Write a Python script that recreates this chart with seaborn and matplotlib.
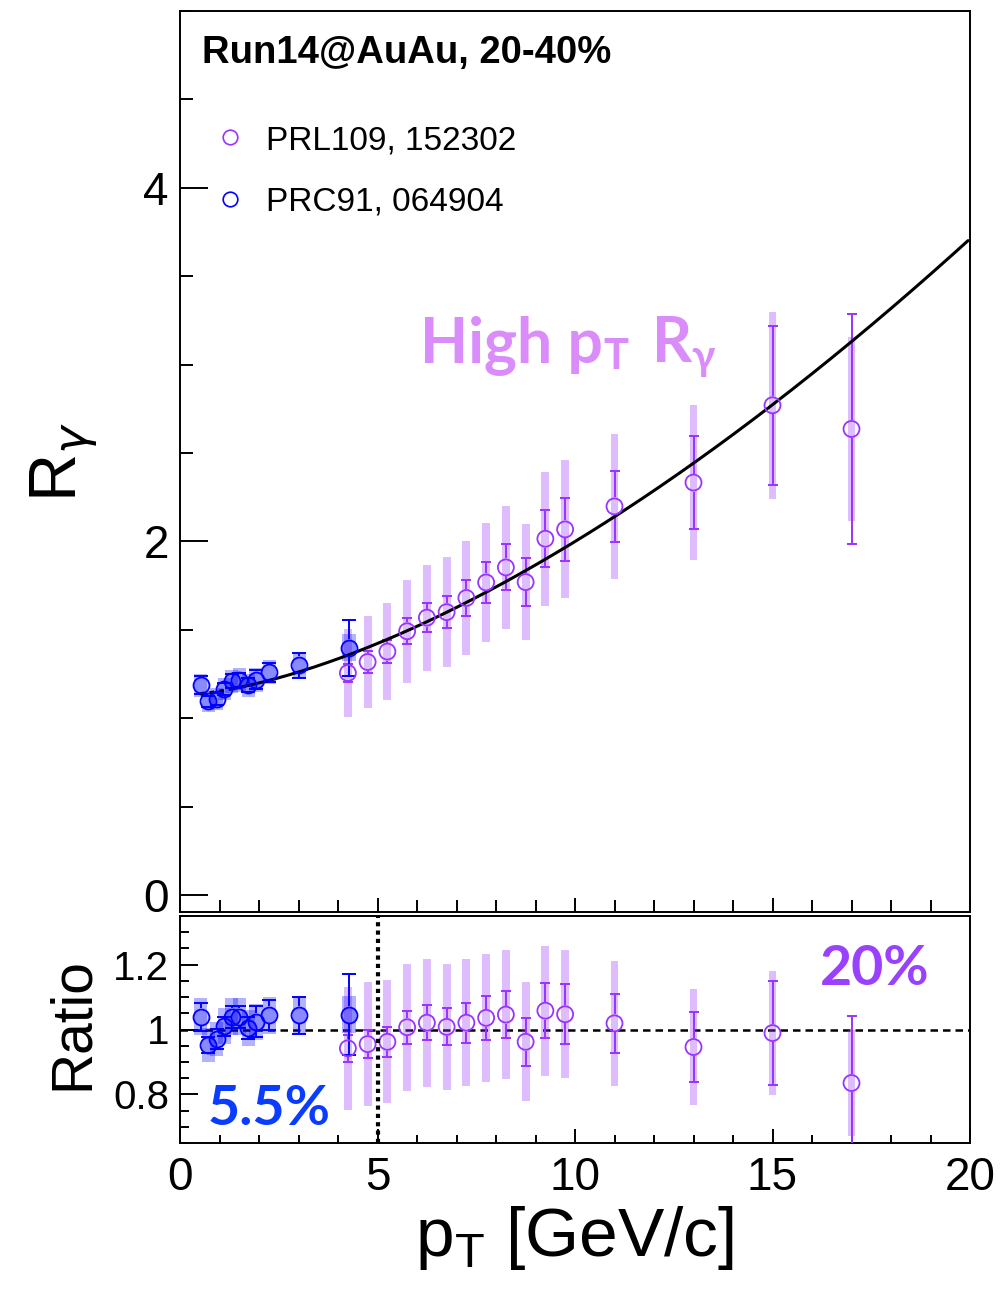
import numpy as np
import pandas as pd
import matplotlib
matplotlib.use("Agg")
import matplotlib.pyplot as plt
import seaborn as sns
from matplotlib.ticker import MultipleLocator, FixedLocator, FixedFormatter
from matplotlib.lines import Line2D

# ---------------- data ----------------
prl_pt = [4.25, 4.75, 5.25, 5.75, 6.25, 6.75, 7.25, 7.75, 8.25, 8.75, 9.25, 9.75, 11.0, 13.0, 15.0, 17.0]
prl_r = [1.256, 1.318, 1.377, 1.492, 1.569, 1.600, 1.680, 1.768, 1.853, 1.770, 2.015, 2.068, 2.198, 2.333, 2.770, 2.636]
prl_stat = [0.05, 0.06, 0.065, 0.074, 0.083, 0.09, 0.10, 0.115, 0.13, 0.135, 0.16, 0.18, 0.20, 0.265, 0.45, 0.65]
prl_sys = [0.25, 0.26, 0.275, 0.29, 0.30, 0.31, 0.32, 0.335, 0.35, 0.33, 0.38, 0.39, 0.41, 0.44, 0.53, 0.52]
prl_ratio = [0.942, 0.955, 0.962, 1.007, 1.021, 1.008, 1.021, 1.036, 1.046, 0.962, 1.058, 1.047, 1.019, 0.946, 0.989, 0.835]
prl_ratio_stat = [0.042, 0.043, 0.047, 0.051, 0.054, 0.057, 0.062, 0.067, 0.073, 0.074, 0.085, 0.093, 0.092, 0.107, 0.16, 0.206]
prl_ratio_sys = [0.19, 0.19, 0.19, 0.196, 0.197, 0.195, 0.195, 0.198, 0.20, 0.183, 0.20, 0.198, 0.193, 0.18, 0.19, 0.164]

prc_pt = [0.52, 0.72, 0.93, 1.12, 1.31, 1.50, 1.73, 1.92, 2.26, 3.02, 4.28]
prc_r = [1.186, 1.095, 1.110, 1.165, 1.209, 1.218, 1.186, 1.218, 1.260, 1.300, 1.398]
prc_stat = [0.05, 0.03, 0.035, 0.035, 0.04, 0.04, 0.04, 0.055, 0.055, 0.07, 0.16]
prc_sys = [0.065, 0.06, 0.061, 0.064, 0.066, 0.067, 0.065, 0.067, 0.069, 0.072, 0.077]
prc_ratio = [1.039, 0.952, 0.971, 1.010, 1.039, 1.039, 1.005, 1.024, 1.044, 1.044, 1.046]
prc_ratio_stat = [0.044, 0.025, 0.03, 0.03, 0.035, 0.035, 0.035, 0.047, 0.046, 0.057, 0.124]
prc_ratio_sys = [0.057, 0.052, 0.053, 0.055, 0.057, 0.057, 0.055, 0.056, 0.057, 0.057, 0.057]

# fit curve  R = a + b * pT^c
fit_a, fit_b, fit_c = 1.13, 0.0234, 1.57
fit_dash_range = (0.5, 1.3)
fit_solid_range = (1.3, 19.95)

legend_labels = ["PRL109, 152302", "PRC91, 064904"]
x_ticks = [0, 5, 10, 15, 20]
top_yticks = [0, 2, 4]
ratio_yticks = [0.8, 1.0, 1.2]
ratio_ytick_labels = ["0.8", "1", "1.2"]

# ---------------- style ----------------
sns.set_theme(style="ticks")
plt.rcParams["font.family"] = ["Liberation Sans", "DejaVu Sans"]
plt.rcParams["mathtext.fontset"] = "dejavusans"
for k in ("text.color", "axes.labelcolor", "xtick.color", "ytick.color",
          "xtick.labelcolor", "ytick.labelcolor", "axes.edgecolor"):
    plt.rcParams[k] = "black"

PURPLE = "#9933ff"
PURPLE_BOX = (0.6, 0.2, 1.0, 0.32)
BLUE = "#0000ff"
BLUE_BOX = (0.0, 0.0, 1.0, 0.30)
BLUE_FILL = (0.0, 0.0, 1.0, 0.22)

W, H = 1000, 1296
fig = plt.figure(figsize=(W / 100, H / 100), dpi=100)
fig.patch.set_facecolor("white")


def fx(px):
    return px / W


def fy(py):
    return 1 - py / H


ax1 = fig.add_axes([0.18, fy(912), 0.79, (912 - 11) / H])
ax2 = fig.add_axes([0.18, fy(1143), 0.79, (1143 - 916) / H])

for ax in (ax1, ax2):
    ax.set_facecolor("white")
    ax.set_xlim(0, 20)
    for s in ax.spines.values():
        s.set_linewidth(1.4)
        s.set_color("black")
        s.set_visible(True)

ax1.set_ylim(-0.096, 5.0)
ax2.set_ylim(0.65, 1.35)

MS = 11.5  # marker size in points
MS_PX = MS * 100 / 72


def draw_points(ax, x, y, stat, sys, box_w, box_color, color, px_per_unit,
                filled, cap_pt, lw):
    x = np.asarray(x); y = np.asarray(y)
    stat = np.asarray(stat); sys_ = np.asarray(sys)
    # systematic boxes
    ax.bar(x, 2 * sys_, bottom=y - sys_, width=box_w, color=box_color,
           linewidth=0, zorder=2)
    # statistical bars, interrupted at the marker
    gap = (MS_PX / 2 + 1) / px_per_unit
    m = stat > gap
    ax.vlines(x[m], y[m] + gap, y[m] + stat[m], color=color, lw=lw, zorder=3)
    ax.vlines(x[m], y[m] - stat[m], y[m] - gap, color=color, lw=lw, zorder=3)
    ax.plot(x, y + stat, marker="_", ms=cap_pt, mew=lw, ls="none", color=color, zorder=3)
    ax.plot(x, y - stat, marker="_", ms=cap_pt, mew=lw, ls="none", color=color, zorder=3)
    df = pd.DataFrame({"x": x, "y": y})
    sns.scatterplot(data=df, x="x", y="y", ax=ax, marker="o", s=MS ** 2,
                    color=color, facecolor=(BLUE_FILL if filled else "none"),
                    edgecolor=color, linewidth=1.3, zorder=5, legend=False)


top_ppu = (912 - 11) / 5.096
rat_ppu = (1143 - 916) / 0.70

# --- top panel ---
draw_points(ax1, prl_pt, prl_r, prl_stat, prl_sys, 0.2, PURPLE_BOX, PURPLE, top_ppu, False, 7.2, 1.4)
draw_points(ax1, prc_pt, prc_r, prc_stat, prc_sys, 0.34, BLUE_BOX, BLUE, top_ppu, True, 10, 1.4)

xd = np.linspace(*fit_dash_range, 40)
xs = np.linspace(*fit_solid_range, 400)
sns.lineplot(x=xd, y=fit_a + fit_b * xd ** fit_c, ax=ax1, color="black", lw=2.2,
             linestyle=(0, (1.6, 1.6)), estimator=None, sort=False, zorder=4)
sns.lineplot(x=xs, y=fit_a + fit_b * xs ** fit_c, ax=ax1, color="black", lw=2.2,
             estimator=None, sort=False, zorder=4)

# --- ratio panel ---
ax2.axhline(1.0, color="black", lw=1.8, ls=(0, (3, 2)), zorder=1)
ax2.axvline(5.0, color="black", lw=3.0, ls=(0, (1, 1)), zorder=6)
draw_points(ax2, prl_pt, prl_ratio, prl_ratio_stat, prl_ratio_sys, 0.2, PURPLE_BOX, PURPLE, rat_ppu, False, 7.2, 1.4)
draw_points(ax2, prc_pt, prc_ratio, prc_ratio_stat, prc_ratio_sys, 0.34, BLUE_BOX, BLUE, rat_ppu, True, 10, 1.4)

# ---------------- ticks ----------------
ax1.xaxis.set_major_locator(FixedLocator(x_ticks))
ax1.xaxis.set_minor_locator(MultipleLocator(1))
ax1.yaxis.set_major_locator(FixedLocator(top_yticks))
ax1.yaxis.set_minor_locator(MultipleLocator(0.5))
ax1.tick_params(axis="x", which="both", direction="in", bottom=True, top=False,
                labelbottom=False, width=1.4, color="black")
ax1.tick_params(axis="x", which="major", length=10)
ax1.tick_params(axis="x", which="minor", length=9)
ax1.tick_params(axis="y", which="both", direction="in", left=True, right=False,
                width=1.4, color="black", labelcolor="black")
ax1.tick_params(axis="y", which="major", length=20, labelsize=33, pad=8)
ax1.tick_params(axis="y", which="minor", length=9.5)

ax2.xaxis.set_major_locator(FixedLocator(x_ticks))
ax2.xaxis.set_minor_locator(MultipleLocator(1))
ax2.yaxis.set_major_locator(FixedLocator(ratio_yticks))
ax2.yaxis.set_major_formatter(FixedFormatter(ratio_ytick_labels))
ax2.yaxis.set_minor_locator(MultipleLocator(0.05))
ax2.tick_params(axis="x", which="both", direction="in", bottom=True, top=False,
                width=1.4, color="black", labelcolor="black")
ax2.tick_params(axis="x", which="major", length=10, labelsize=33, pad=9)
ax2.tick_params(axis="x", which="minor", length=6)
ax2.tick_params(axis="y", which="both", direction="in", left=True, right=False,
                width=1.4, color="black", labelcolor="black")
ax2.tick_params(axis="y", which="major", length=13, labelsize=29, pad=8)
ax2.tick_params(axis="y", which="minor", length=6.5)

for ax in (ax1, ax2):
    ax.set_xlabel("")
    ax.set_ylabel("")
    ax.grid(False)

ax1.set_ylabel(r"R$_{\gamma}$", fontsize=48, color="black")
ax1.yaxis.set_label_coords(-0.101, 0.5)
ax2.set_ylabel("Ratio", fontsize=41, color="black")
ax2.yaxis.set_label_coords(-0.101, 0.524)

# x label: p_T [GeV/c]  (single text, T as subscript)
fig.text(fx(415), fy(1256), r"p$_{\mathregular{T}}$ [GeV/c]", fontsize=50,
         va="baseline", ha="left", color="black")

# ---------------- annotations ----------------
fig.text(fx(202), fy(63), "Run14@AuAu, 20-40%", fontsize=27.5, fontweight="bold",
         va="baseline", ha="left", color="black")

handles = [Line2D([], [], marker="o", ls="none", mfc="none", mec=PURPLE, ms=10.5, mew=1.2),
           Line2D([], [], marker="o", ls="none", mfc="none", mec=BLUE, ms=10.5, mew=1.2)]
leg = ax1.legend(handles, legend_labels, loc="upper left",
                 bbox_to_anchor=((213 - 180) / 790, (912 - 125) / 901),
                 frameon=False, fontsize=24, handlelength=1.0, handletextpad=0.58,
                 labelspacing=0.92, borderpad=0, borderaxespad=0)
for t in leg.get_texts():
    t.set_color("black")

HI = (0.85, 0.55, 0.98)
HF = ["Lato", "DejaVu Sans"]
fig.text(fx(420), fy(362), "High p", fontsize=45, fontweight="bold", color=HI,
         family=HF, va="baseline", ha="left")
fig.text(fx(603), fy(369), "T", fontsize=30, fontweight="bold", color=HI,
         family=HF, va="baseline", ha="left")
fig.text(fx(652), fy(362), "R", fontsize=45, fontweight="bold", color=HI,
         family=HF, va="baseline", ha="left")
fig.text(fx(691), fy(370), "γ", fontsize=30, fontweight="bold", color=HI,
         family=HF, va="baseline", ha="left")

fig.text(fx(820), fy(985), "20%", fontsize=40, fontweight="bold", color="#9a40ff",
         family=HF, va="baseline", ha="left")
fig.text(fx(208), fy(1125), "5.5%", fontsize=40, fontweight="bold", color="#0a3cff",
         family=HF, va="baseline", ha="left")

fig.savefig("out.png", dpi=100, facecolor="white")
